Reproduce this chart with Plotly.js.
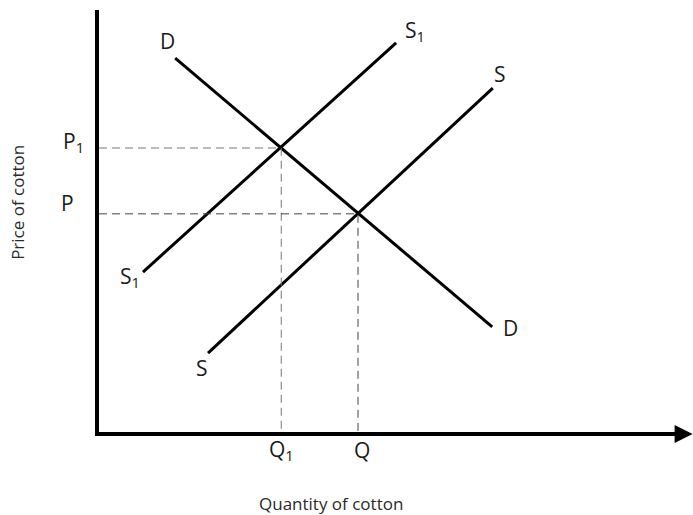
<!DOCTYPE html>
<html>
<head>
<meta charset="utf-8">
<script src="https://cdn.plot.ly/plotly-3.0.1.min.js"></script>
<style>html,body{margin:0;padding:0;background:#fff;}#chart{width:693px;height:515px;}</style>
</head>
<body>
<div id="chart"></div>
<script>
// Curve endpoints (arbitrary units, x: quantity, y: price)
const demandX = [1.30, 6.71];
const demandY = [8.86, 2.49];
const supply1X = [0.75, 5.07];
const supply1Y = [3.79, 9.22];
const supplyX = [1.86, 6.72];
const supplyY = [1.87, 8.15];
// Equilibria
const priceLevels = [6.73, 5.17];      // P1, P
const quantityLevels = [3.11, 4.42];   // Q1, Q
const priceLabels = ['P<sub>1</sub>', 'P'];
const quantityLabels = ['Q<sub>1</sub>', 'Q'];

const font = 'Open Sans, Liberation Sans, sans-serif';
const solid = {color: '#000', width: 3};

const traces = [
  {x: demandX, y: demandY, mode: 'lines', line: solid, hoverinfo: 'skip'},
  {x: supply1X, y: supply1Y, mode: 'lines', line: solid, hoverinfo: 'skip'},
  {x: supplyX, y: supplyY, mode: 'lines', line: solid, hoverinfo: 'skip'}
];
// dashed guides
const dashColors = ['#777', '#444'];
for (let i = 0; i < 2; i++) {
  traces.push({x: [0, quantityLevels[i], quantityLevels[i]], y: [priceLevels[i], priceLevels[i], 0],
    mode: 'lines', line: {color: dashColors[i], width: 1, dash: '8px,5px'}, hoverinfo: 'skip'});
}

const labFont = {family: font, size: 21, color: '#1a1a1a'};
function lab(x, y, text, xs, ys) {
  return {x: x, y: y, xref: 'x', yref: 'y', text: text, showarrow: false, font: labFont,
    xanchor: 'center', yanchor: 'middle', xshift: xs || 0, yshift: ys || 0};
}
const annotations = [
  lab(demandX[0], demandY[0], 'D', -8, 17),
  lab(demandX[1], demandY[1], 'D', 18, -1),
  lab(supply1X[1], supply1Y[1], 'S<sub>1</sub>', 19, 12),
  lab(supply1X[0], supply1Y[0], 'S<sub>1</sub>', -13, -5),
  lab(supplyX[1], supplyY[1], 'S', 7, 14),
  lab(supplyX[0], supplyY[0], 'S', -6, -15),
  lab(0, priceLevels[0], priceLabels[0], -26, 6),
  lab(0, priceLevels[1], priceLabels[1], -32, 11),
  lab(quantityLevels[0], 0, quantityLabels[0], 0, -18),
  lab(quantityLevels[1], 0, quantityLabels[1], 4, -18),
  // x-axis arrow
  {x: 10.13, y: 0, ax: 9.8, ay: 0, xref: 'x', yref: 'y', axref: 'x', ayref: 'y', text: '',
    showarrow: true, arrowhead: 2, arrowsize: 0.9, arrowwidth: 4, arrowcolor: '#000', yshift: -2},
  {x: 0.396, y: 0, xref: 'paper', yref: 'paper', text: 'Quantity of cotton', showarrow: false,
    font: {family: font, size: 17, color: '#2a2a2a'}, xanchor: 'center', yanchor: 'middle', yshift: -71},
  {x: 0, y: 0.543, xref: 'paper', yref: 'paper', text: 'Price of cotton', showarrow: false, textangle: -90,
    font: {family: font, size: 17, color: '#2a2a2a'}, xanchor: 'center', yanchor: 'middle', xshift: -81}
];

const layout = {
  width: 693, height: 515,
  margin: {l: 99, r: 8, t: 10, b: 83},
  paper_bgcolor: '#fff', plot_bgcolor: '#fff',
  showlegend: false,
  xaxis: {range: [0, 10], showgrid: false, zeroline: false, showticklabels: false, ticks: '',
    showline: true, linecolor: '#000', linewidth: 4, fixedrange: true},
  yaxis: {range: [0, 10], showgrid: false, zeroline: false, showticklabels: false, ticks: '',
    showline: true, linecolor: '#000', linewidth: 4, fixedrange: true},
  annotations: annotations
};

Plotly.newPlot('chart', traces, layout, {displayModeBar: false, staticPlot: true});
</script>
</body>
</html>
